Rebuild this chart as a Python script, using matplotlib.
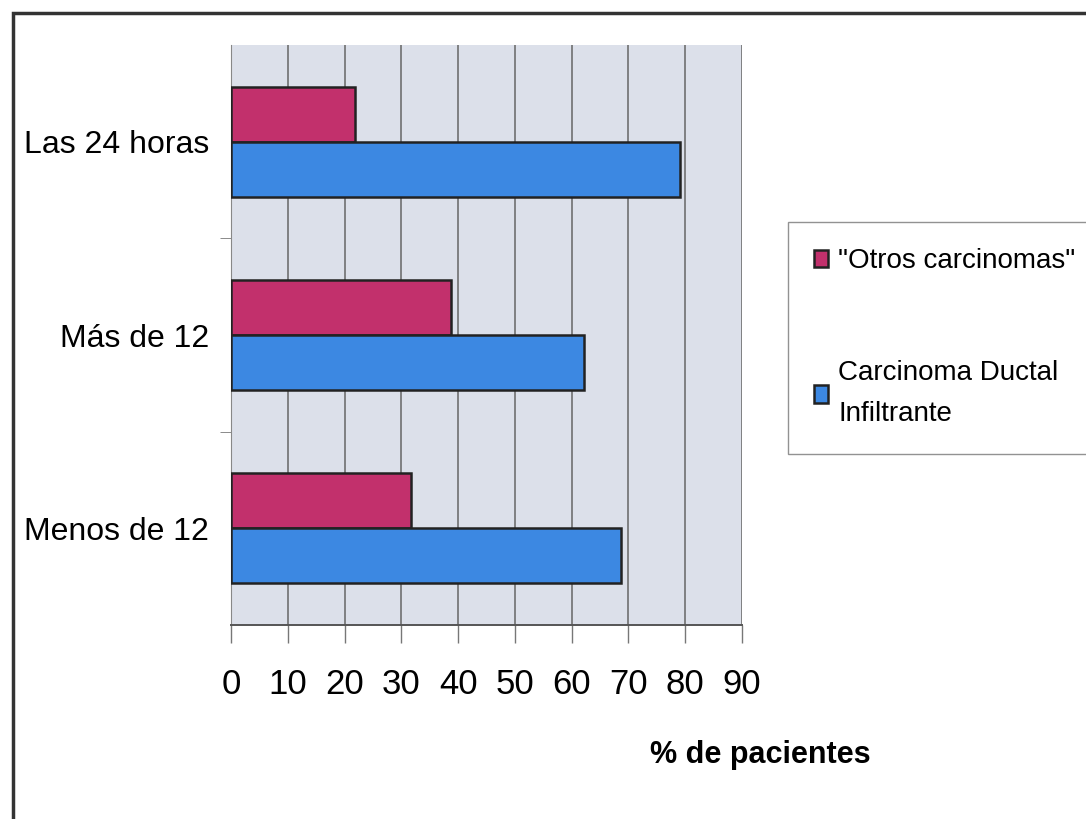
import matplotlib
matplotlib.use("Agg")
import matplotlib.pyplot as plt
from matplotlib import font_manager
from matplotlib.patches import Rectangle
import numpy as np

# === DATOS ===
categorias = ["Menos de 12", "Más de 12", "Las 24 horas"]
otros_carcinomas = [31.7, 38.8, 21.8]
carcinoma_ductal = [68.7, 62.2, 79.1]
xticks = list(range(0, 100, 10))

# === FUENTE (estrecha si existe) ===
disponibles = {f.name for f in font_manager.fontManager.ttflist}
familia = "Liberation Sans Narrow" if "Liberation Sans Narrow" in disponibles else "Liberation Sans"
plt.rcParams['font.family'] = [familia, 'DejaVu Sans']

color_otros = '#C2306C'
color_cdi = '#3C88E2'

fig = plt.figure(figsize=(10.86, 8.19), dpi=100)
ax = fig.add_axes([0.2127, 0.2369, 0.4705, 0.708])
ax.set_facecolor('#DCE0EA')

y = np.arange(len(categorias))
alto = 0.285
ax.barh(y + alto / 2, otros_carcinomas, height=alto, color=color_otros,
        edgecolor='#222222', linewidth=1.8, zorder=3, label='"Otros carcinomas"')
ax.barh(y - alto / 2, carcinoma_ductal, height=alto, color=color_cdi,
        edgecolor='#222222', linewidth=1.8, zorder=3, label='Carcinoma Ductal\nInfiltrante')

ax.set_xlim(0, 90)
ax.set_ylim(-0.5, 2.5)
ax.set_xticks(xticks)
ax.set_xticklabels([str(t) for t in xticks], fontsize=25)
ax.tick_params(axis='x', direction='out', length=13, width=1, color='#777777', pad=18)
ax.grid(axis='x', color='#666666', linewidth=1.1, zorder=1)

ax.set_yticks(y)
ax.set_yticklabels(categorias, fontsize=23)
ax.tick_params(axis='y', length=0, pad=16)
ax.set_yticks([0.5, 1.5], minor=True)
ax.tick_params(axis='y', which='minor', direction='out', length=8, color='#777777')

for lado in ['top', 'right']:
    ax.spines[lado].set_visible(False)
ax.spines['left'].set_color('#888888')
ax.spines['bottom'].set_color('#555555')
ax.spines['bottom'].set_linewidth(1.4)

fig.text(0.70, 0.078, '% de pacientes', fontsize=22, fontweight='bold', ha='center', va='center')

leg = ax.legend(loc='upper left', bbox_to_anchor=(0.7256, 0.729), bbox_transform=fig.transFigure,
                fontsize=20, frameon=True, fancybox=False, labelspacing=3.1, borderaxespad=0,
                handlelength=0.5, handleheight=0.6, handletextpad=0.35, borderpad=0.95)
for t in leg.get_texts():
    t.set_linespacing(1.75)
leg.get_frame().set_edgecolor('#777777')
leg.get_frame().set_linewidth(1.0)

# Marco exterior
fig.patches.append(Rectangle((0.012, -0.05), 1.2, 1.034, transform=fig.transFigure,
                             fill=False, edgecolor='#333333', linewidth=2.5))

fig.savefig('out.png', dpi=100)
